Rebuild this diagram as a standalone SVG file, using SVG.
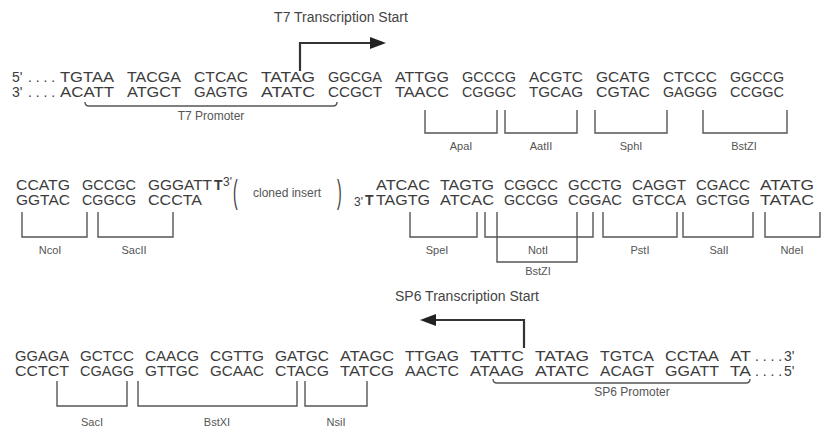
<svg xmlns="http://www.w3.org/2000/svg" width="829" height="427" viewBox="0 0 829 427">
<defs>
<style>
.dna{font-family:"Liberation Sans",Arial,sans-serif;font-size:14px;fill:#3c3c3c}
.b{font-weight:bold}
.sm{font-size:12px}
.par{font-family:"Liberation Sans",Arial,sans-serif;font-size:14px;fill:#3c3c3c}
.lbl{font-family:"Liberation Sans",Arial,sans-serif;font-size:11px;fill:#555;text-anchor:middle}
.plbl{font-size:12px}
.ttl{font-family:"Liberation Sans",Arial,sans-serif;font-size:14px;fill:#444;text-anchor:middle}
.br{fill:none;stroke:#555;stroke-width:1.4}
.arr{fill:none;stroke:#333;stroke-width:2.2}
</style>
<marker id="ah" viewBox="0 0 16 12" refX="2" refY="6" markerWidth="16" markerHeight="12" markerUnits="userSpaceOnUse" orient="auto"><path d="M0 0 L16 6 L0 12 z" fill="#222"/></marker>
</defs>
<rect width="829" height="427" fill="#fff"/>

<g id="connectors">
<path class="arr" d="M300 71 V43 H372" marker-end="url(#ah)"/>
<path class="arr" d="M524 348 V320 H434" marker-end="url(#ah)"/>
</g>

<g id="t7-start"><text class="ttl" x="341" y="22">T7 Transcription Start</text></g>
<g id="sp6-start"><text class="ttl" x="467" y="301">SP6 Transcription Start</text></g>

<g id="row1" class="dna">
<text x="12" y="82">5'</text><text x="28" y="82">. . . .</text>
<text x="60" y="82" textLength="54" lengthAdjust="spacingAndGlyphs">TGTAA</text><text x="127" y="82" textLength="54" lengthAdjust="spacingAndGlyphs">TACGA</text><text x="194" y="82" textLength="54" lengthAdjust="spacingAndGlyphs">CTCAC</text><text x="261" y="82" textLength="54" lengthAdjust="spacingAndGlyphs">TATAG</text><text x="328" y="82" textLength="54" lengthAdjust="spacingAndGlyphs">GGCGA</text><text x="395" y="82" textLength="54" lengthAdjust="spacingAndGlyphs">ATTGG</text><text x="462" y="82" textLength="54" lengthAdjust="spacingAndGlyphs">GCCCG</text><text x="529" y="82" textLength="54" lengthAdjust="spacingAndGlyphs">ACGTC</text><text x="596" y="82" textLength="54" lengthAdjust="spacingAndGlyphs">GCATG</text><text x="663" y="82" textLength="54" lengthAdjust="spacingAndGlyphs">CTCCC</text><text x="730" y="82" textLength="54" lengthAdjust="spacingAndGlyphs">GGCCG</text>
<text x="12" y="97">3'</text><text x="28" y="97">. . . .</text>
<text x="60" y="97" textLength="54" lengthAdjust="spacingAndGlyphs">ACATT</text><text x="127" y="97" textLength="54" lengthAdjust="spacingAndGlyphs">ATGCT</text><text x="194" y="97" textLength="54" lengthAdjust="spacingAndGlyphs">GAGTG</text><text x="261" y="97" textLength="54" lengthAdjust="spacingAndGlyphs">ATATC</text><text x="328" y="97" textLength="54" lengthAdjust="spacingAndGlyphs">CCGCT</text><text x="395" y="97" textLength="54" lengthAdjust="spacingAndGlyphs">TAACC</text><text x="462" y="97" textLength="54" lengthAdjust="spacingAndGlyphs">CGGGC</text><text x="529" y="97" textLength="54" lengthAdjust="spacingAndGlyphs">TGCAG</text><text x="596" y="97" textLength="54" lengthAdjust="spacingAndGlyphs">CGTAC</text><text x="663" y="97" textLength="54" lengthAdjust="spacingAndGlyphs">GAGGG</text><text x="730" y="97" textLength="54" lengthAdjust="spacingAndGlyphs">CCGGC</text>
</g>

<g id="t7-promoter">
<path class="br" d="M85 102 Q85 106 89 106 H333 Q337 106 337 102"/>
<text class="lbl plbl" x="211" y="120">T7 Promoter</text>
</g>

<g id="site-apai"><path class="br" d="M425 110 V133 H497 V110"/><text class="lbl" x="461" y="150">ApaI</text></g>
<g id="site-aatii"><path class="br" d="M505 110 V133 H577 V110"/><text class="lbl" x="541" y="150">AatII</text></g>
<g id="site-sphi"><path class="br" d="M595 110 V133 H667 V110"/><text class="lbl" x="631" y="150">SphI</text></g>
<g id="site-bstzi-1"><path class="br" d="M703 110 V133 H787 V110"/><text class="lbl" x="744" y="150">BstZI</text></g>

<g id="row2" class="dna">
<text x="16" y="190" textLength="54" lengthAdjust="spacingAndGlyphs">CCATG</text><text x="82" y="190" textLength="54" lengthAdjust="spacingAndGlyphs">GCCGC</text><text x="148" y="190" textLength="64" lengthAdjust="spacingAndGlyphs">GGGATT</text><text class="b" x="214" y="190">T</text><text class="sm" x="223" y="186">3'</text>
<text x="16" y="205" textLength="54" lengthAdjust="spacingAndGlyphs">GGTAC</text><text x="82" y="205" textLength="54" lengthAdjust="spacingAndGlyphs">CGGCG</text><text x="148" y="205" textLength="54" lengthAdjust="spacingAndGlyphs">CCCTA</text>
<text x="376" y="190" textLength="54" lengthAdjust="spacingAndGlyphs">ATCAC</text><text x="440" y="190" textLength="54" lengthAdjust="spacingAndGlyphs">TAGTG</text><text x="504" y="190" textLength="54" lengthAdjust="spacingAndGlyphs">CGGCC</text><text x="568" y="190" textLength="54" lengthAdjust="spacingAndGlyphs">GCCTG</text><text x="632" y="190" textLength="54" lengthAdjust="spacingAndGlyphs">CAGGT</text><text x="696" y="190" textLength="54" lengthAdjust="spacingAndGlyphs">CGACC</text><text x="760" y="190" textLength="54" lengthAdjust="spacingAndGlyphs">ATATG</text>
<text class="sm" x="354" y="206">3'</text><text class="b" x="365" y="205">T</text><text x="376" y="205" textLength="54" lengthAdjust="spacingAndGlyphs">TAGTG</text>
<text x="440" y="205" textLength="54" lengthAdjust="spacingAndGlyphs">ATCAC</text><text x="504" y="205" textLength="54" lengthAdjust="spacingAndGlyphs">GCCGG</text><text x="568" y="205" textLength="54" lengthAdjust="spacingAndGlyphs">CGGAC</text><text x="632" y="205" textLength="54" lengthAdjust="spacingAndGlyphs">GTCCA</text><text x="696" y="205" textLength="54" lengthAdjust="spacingAndGlyphs">GCTGG</text><text x="760" y="205" textLength="54" lengthAdjust="spacingAndGlyphs">TATAC</text>
</g>

<g id="cloned-insert">
<text class="par" transform="translate(233 202.5) scale(1 2.4)" x="0" y="0">(</text>
<text class="lbl plbl" x="287" y="197">cloned insert</text>
<text class="par" transform="translate(337 202.5) scale(1 2.4)" x="0" y="0">)</text>
</g>

<g id="site-ncoi"><path class="br" d="M22 212 V237 H87 V212"/><text class="lbl" x="50" y="254">NcoI</text></g>
<g id="site-sacii"><path class="br" d="M98 212 V237 H173 V212"/><text class="lbl" x="134" y="254">SacII</text></g>
<g id="site-spei"><path class="br" d="M410 212 V237 H477 V212"/><text class="lbl" x="437" y="254">SpeI</text></g>
<g id="site-noti"><path class="br" d="M485 212 V237 H593 V212"/><text class="lbl" x="538" y="254">NotI</text></g>
<g id="site-bstzi-2"><path class="br" d="M497 212 V262 H577 V212"/><text class="lbl" x="538" y="275">BstZI</text></g>
<g id="site-psti"><path class="br" d="M603 212 V237 H677 V212"/><text class="lbl" x="640" y="254">PstI</text></g>
<g id="site-sali"><path class="br" d="M683 212 V237 H753 V212"/><text class="lbl" x="719" y="254">SalI</text></g>
<g id="site-ndei"><path class="br" d="M765 212 V237 H820 V212"/><text class="lbl" x="792" y="254">NdeI</text></g>

<g id="row3" class="dna">
<text x="15" y="361" textLength="54" lengthAdjust="spacingAndGlyphs">GGAGA</text><text x="80" y="361" textLength="54" lengthAdjust="spacingAndGlyphs">GCTCC</text><text x="145" y="361" textLength="54" lengthAdjust="spacingAndGlyphs">CAACG</text><text x="210" y="361" textLength="54" lengthAdjust="spacingAndGlyphs">CGTTG</text><text x="275" y="361" textLength="54" lengthAdjust="spacingAndGlyphs">GATGC</text><text x="340" y="361" textLength="54" lengthAdjust="spacingAndGlyphs">ATAGC</text><text x="405" y="361" textLength="54" lengthAdjust="spacingAndGlyphs">TTGAG</text><text x="470" y="361" textLength="54" lengthAdjust="spacingAndGlyphs">TATTC</text><text x="535" y="361" textLength="54" lengthAdjust="spacingAndGlyphs">TATAG</text><text x="600" y="361" textLength="54" lengthAdjust="spacingAndGlyphs">TGTCA</text><text x="665" y="361" textLength="54" lengthAdjust="spacingAndGlyphs">CCTAA</text><text x="730" y="361" textLength="21" lengthAdjust="spacingAndGlyphs">AT</text><text x="755" y="361">. . . .</text><text x="784" y="361">3'</text>
<text x="15" y="376" textLength="54" lengthAdjust="spacingAndGlyphs">CCTCT</text><text x="80" y="376" textLength="54" lengthAdjust="spacingAndGlyphs">CGAGG</text><text x="145" y="376" textLength="54" lengthAdjust="spacingAndGlyphs">GTTGC</text><text x="210" y="376" textLength="54" lengthAdjust="spacingAndGlyphs">GCAAC</text><text x="275" y="376" textLength="54" lengthAdjust="spacingAndGlyphs">CTACG</text><text x="340" y="376" textLength="54" lengthAdjust="spacingAndGlyphs">TATCG</text><text x="405" y="376" textLength="54" lengthAdjust="spacingAndGlyphs">AACTC</text><text x="470" y="376" textLength="54" lengthAdjust="spacingAndGlyphs">ATAAG</text><text x="535" y="376" textLength="54" lengthAdjust="spacingAndGlyphs">ATATC</text><text x="600" y="376" textLength="54" lengthAdjust="spacingAndGlyphs">ACAGT</text><text x="665" y="376" textLength="54" lengthAdjust="spacingAndGlyphs">GGATT</text><text x="730" y="376" textLength="21" lengthAdjust="spacingAndGlyphs">TA</text><text x="755" y="376">. . . .</text><text x="784" y="376">5'</text>
</g>

<g id="sp6-promoter">
<path class="br" d="M493 379 Q493 383 497 383 H746 Q750 383 750 379"/>
<text class="lbl plbl" x="632" y="396">SP6 Promoter</text>
</g>

<g id="site-saci"><path class="br" d="M57 381 V406 H127 V381"/><text class="lbl" x="92" y="426">SacI</text></g>
<g id="site-bstxi"><path class="br" d="M138 381 V406 H297 V381"/><text class="lbl" x="217" y="426">BstXI</text></g>
<g id="site-nsii"><path class="br" d="M305 381 V406 H367 V381"/><text class="lbl" x="336" y="426">NsiI</text></g>
</svg>
